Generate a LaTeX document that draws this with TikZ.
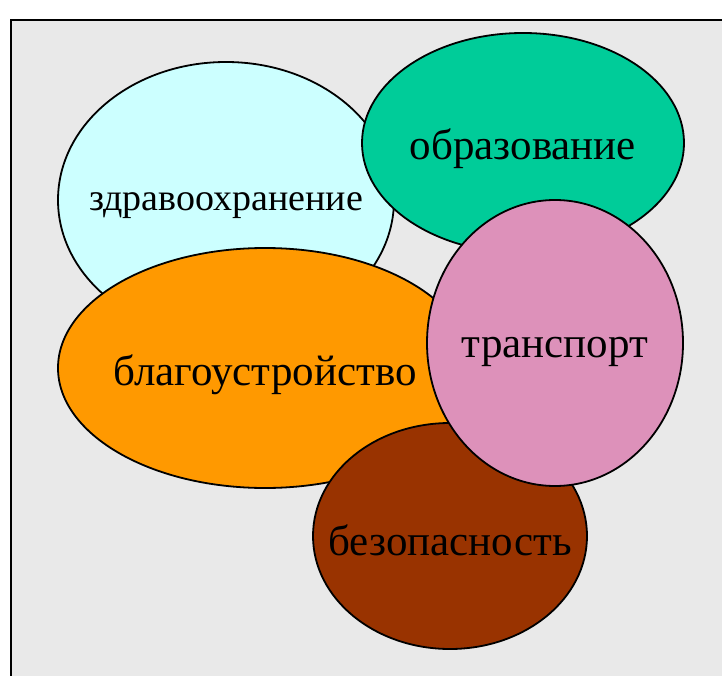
\documentclass[tikz,border=0pt]{standalone}
\usepackage{fontspec}
\setmainfont{Liberation Serif}
\definecolor{bgray}{HTML}{E9E9E9}
\definecolor{ccyan}{HTML}{CCFFFF}
\definecolor{cgreen}{HTML}{00CC99}
\definecolor{corange}{HTML}{FF9900}
\definecolor{cpink}{HTML}{DD91BA}
\definecolor{cbrown}{HTML}{993300}
\begin{document}
\begin{tikzpicture}[x=1pt,y=-1pt,
  blob/.style={draw=black, line width=1.8pt},
  lbl/.style={inner sep=0pt, text=black}]
\useasboundingbox (0,0) rectangle (722,676);
\fill[white] (0,0) rectangle (722,676);
\fill[bgray] (11,20) rectangle (730,690);
\draw[line width=2.5pt] (11,690) -- (11,20) -- (730,20);
% ellipses
\path[blob, fill=ccyan] (226,200) ellipse [x radius=168, y radius=138];
\path[blob, fill=cgreen] (523,143) ellipse [x radius=161, y radius=110];
\path[blob, fill=corange] (265,368) ellipse [x radius=207, y radius=120];
\path[blob, fill=cbrown] (450,536) ellipse [x radius=137, y radius=113];
\path[blob, fill=cpink] (555,343) ellipse [x radius=128, y radius=143];
% labels
\node[lbl, font=\fontsize{38}{42}\selectfont] (zdr) at (226,206) {здравоохранение};
\node[lbl, font=\fontsize{43}{47}\selectfont] (obr) at (523,149) {образование};
\node[lbl, font=\fontsize{43}{47}\selectfont] (blag) at (265,375) {благоустройство};
\node[lbl, font=\fontsize{43}{47}\selectfont] (tra) at (555,352) {транспорт};
\node[lbl, font=\fontsize{43}{47}\selectfont] (bez) at (450,540) {безопасность};
\end{tikzpicture}
\end{document}
